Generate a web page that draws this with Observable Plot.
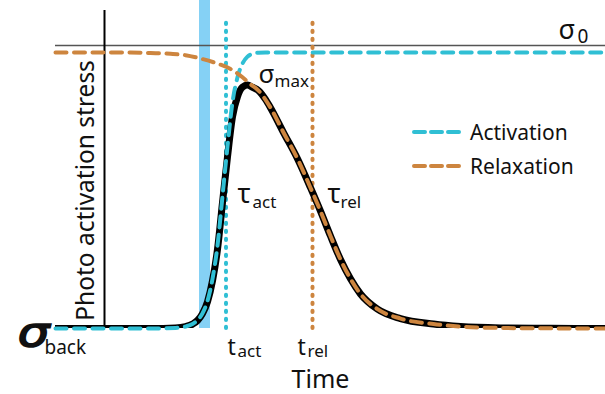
<!DOCTYPE html>
<html><head><meta charset="utf-8">
<script src="https://cdn.jsdelivr.net/npm/d3@7"></script>
<script src="https://cdn.jsdelivr.net/npm/@observablehq/plot@0.6"></script>
<style>
body{margin:0;background:#fff}
#wrap{position:relative;width:605px;height:394px;font-family:"Noto Sans",sans-serif}
#wrap svg{font-family:"Noto Sans",sans-serif}
.leg{position:absolute;left:412px;display:flex;align-items:center;font-size:21px;color:#111;height:24px;line-height:24px}
.leg svg{margin-right:9px}
</style>
</head><body><div id="wrap"></div>
<script>
// ---- data (time in arbitrary units, stress normalised: 0 = σ_back, 1 = plateau) ----
const activationT = [0,19,24,26,27.4,28.4,29.4,30.4,31.4,32.4,33.4,34.4,35.4,36.4,37.4,38.4,39.4,40.6,42,44,110];
const activationV = [0,0,0.002,0.007,0.016,0.03,0.055,0.10,0.18,0.30,0.48,0.66,0.82,0.91,0.96,0.985,0.995,0.999,1,1,1];

const relaxationT = [0,15,19,23,26,29,32,35,37.4,39,40.6,43,45.6,48.4,51,53,55,57,59,61,64.4,69,75.6,81,89,99,110];
const relaxationV = [1,1,0.998,0.995,0.99,0.978,0.962,0.94,0.91,0.885,0.862,0.80,0.71,0.615,0.51,0.425,0.335,0.25,0.18,0.125,0.07,0.036,0.016,0.007,0.002,0.0005,0];

const stressT = [0,19,24,26,27.4,28.4,29.4,30.4,31.4,32.4,33.4,34.4,35.4,36.4,37.4,38.4,39.4,40.6,42,43,45.6,48.4,51,53,55,57,59,61,64.4,69,75.6,81,89,99,110];
const stressV = [0,0,0.002,0.007,0.016,0.029,0.054,0.097,0.173,0.287,0.456,0.622,0.767,0.84,0.874,0.882,0.874,0.862,0.83,0.80,0.71,0.615,0.51,0.425,0.335,0.25,0.18,0.125,0.07,0.036,0.016,0.007,0.002,0.0005,0];

const pulseStart = 28.8, pulseEnd = 31.0;   // light pulse
const tAct = 34.1, tRel = 51.4;             // characteristic times
const tPeak = 38.4, peakV = 0.882;           // σ_max
const axisT = 9.8;                           // drawn stress axis
const sigma0Level = 1.025;                   // σ_0
const guideTop = 1.11, axisTop = 1.152, bandTop = 1.19;
const legendLabels = ["Activation", "Relaxation"];

const cyan = "#30bfd4", orange = "#cd853f", band = "#85d1f5";

const act = activationT.map((t, i) => ({t, v: activationV[i]}));
const rel = relaxationT.map((t, i) => ({t, v: relaxationV[i]}));
const str = stressT.map((t, i) => ({t, v: stressV[i]}));

const dash = {strokeDasharray: "11 7.5", strokeLinecap: "round", strokeWidth: 4, curve: "monotone-x"};
const dots = {strokeDasharray: "1.2 6.8", strokeLinecap: "round", strokeWidth: 4};
const sub = (txt, x, y, dx, dy, size, extra = {}) =>
  Plot.text([{x, y, txt}], {x: "x", y: "y", text: "txt", dx, dy, fontSize: size, textAnchor: "start", fill: "#111", ...extra});

const chart = Plot.plot({
  width: 605, height: 394,
  marginLeft: 55, marginRight: 0, marginTop: 10, marginBottom: 66,
  x: {domain: [0, 110], axis: null},
  y: {domain: [0, axisTop], axis: null},
  marks: [
    Plot.rect([{x1: pulseStart, x2: pulseEnd, y1: 0, y2: bandTop}], {x1: "x1", x2: "x2", y1: "y1", y2: "y2", fill: band}),
    Plot.ruleY([sigma0Level], {x1: 0, x2: 110, stroke: "#555", strokeWidth: 1.6}),
    Plot.ruleX([axisT], {y1: 0, y2: axisTop, stroke: "#000", strokeWidth: 2}),
    Plot.ruleX([tAct], {y1: 0, y2: guideTop, stroke: cyan, ...dots}),
    Plot.ruleX([tRel], {y1: 0, y2: guideTop, stroke: orange, ...dots}),
    Plot.line(str, {x: "t", y: "v", stroke: "#000", strokeWidth: 7, curve: "monotone-x", clip: true}),
    Plot.line(act, {x: "t", y: "v", stroke: cyan, ...dash}),
    Plot.line(rel, {x: "t", y: "v", stroke: orange, ...dash}),
    // labels
    Plot.text([{x: axisT, y: 0.5}], {x: "x", y: "y", text: () => "Photo activation stress", rotate: -90, dx: -18, fontSize: 24.5, fill: "#111"}),
    Plot.text([{x: 53, y: 0}], {x: "x", y: "y", text: () => "Time", dy: 51, fontSize: 25, fill: "#111"}),
    Plot.text([{x: 0, y: 0}], {x: "x", y: "y", text: () => "σ", dx: -22, dy: 5, fontSize: 40, fontStyle: "italic", fontFamily: "DejaVu Sans", fill: "#111"}),
    sub("back", 0, 0, -11, 19, 19),
    sub("t", tAct, 0, 1.5, 19, 23),
    sub("act", tAct, 0, 11.5, 23, 17),
    sub("t", tRel, 0, -15, 19, 23),
    sub("rel", tRel, 0, -5, 23, 17),
    sub("σ", tPeak, peakV, 11, -10, 26),
    sub("max", tPeak, peakV, 27, -3, 17),
    sub("τ", tAct, 0.5, 11.5, 4, 27),
    sub("act", tAct, 0.5, 26.5, 12, 17),
    sub("τ", tRel, 0.5, 15, 4, 27),
    sub("rel", tRel, 0.5, 28, 12, 17),
    sub("σ", 110, sigma0Level, -47, -15, 27),
    sub("0", 110, sigma0Level, -28, -9, 19)
  ]
});
// thicken and widen the big σ_back glyph a little
d3.select(chart).selectAll("text").filter(function () {
  return this.textContent === "σ" && (this.getAttribute("font-family") === "DejaVu Sans" || this.parentNode.getAttribute("font-family") === "DejaVu Sans");
}).each(function () {
  this.setAttribute("transform", (this.getAttribute("transform") || "") + " scale(1.25,1)");
  this.setAttribute("stroke", "#111");
  this.setAttribute("stroke-width", "1.6");
});
const wrap = document.getElementById("wrap");
wrap.appendChild(chart);
[[legendLabels[0], cyan, 119.5], [legendLabels[1], orange, 153.5]].forEach(([lab, col, top]) => {
  const d = document.createElement("div");
  d.className = "leg";
  d.style.top = top + "px";
  d.innerHTML = `<svg width="49" height="10"><line x1="2" x2="47" y1="5" y2="5" stroke="${col}" stroke-width="4" stroke-linecap="round" stroke-dasharray="11 6"/></svg><span>${lab}</span>`;
  wrap.appendChild(d);
});
</script>
</body></html>
